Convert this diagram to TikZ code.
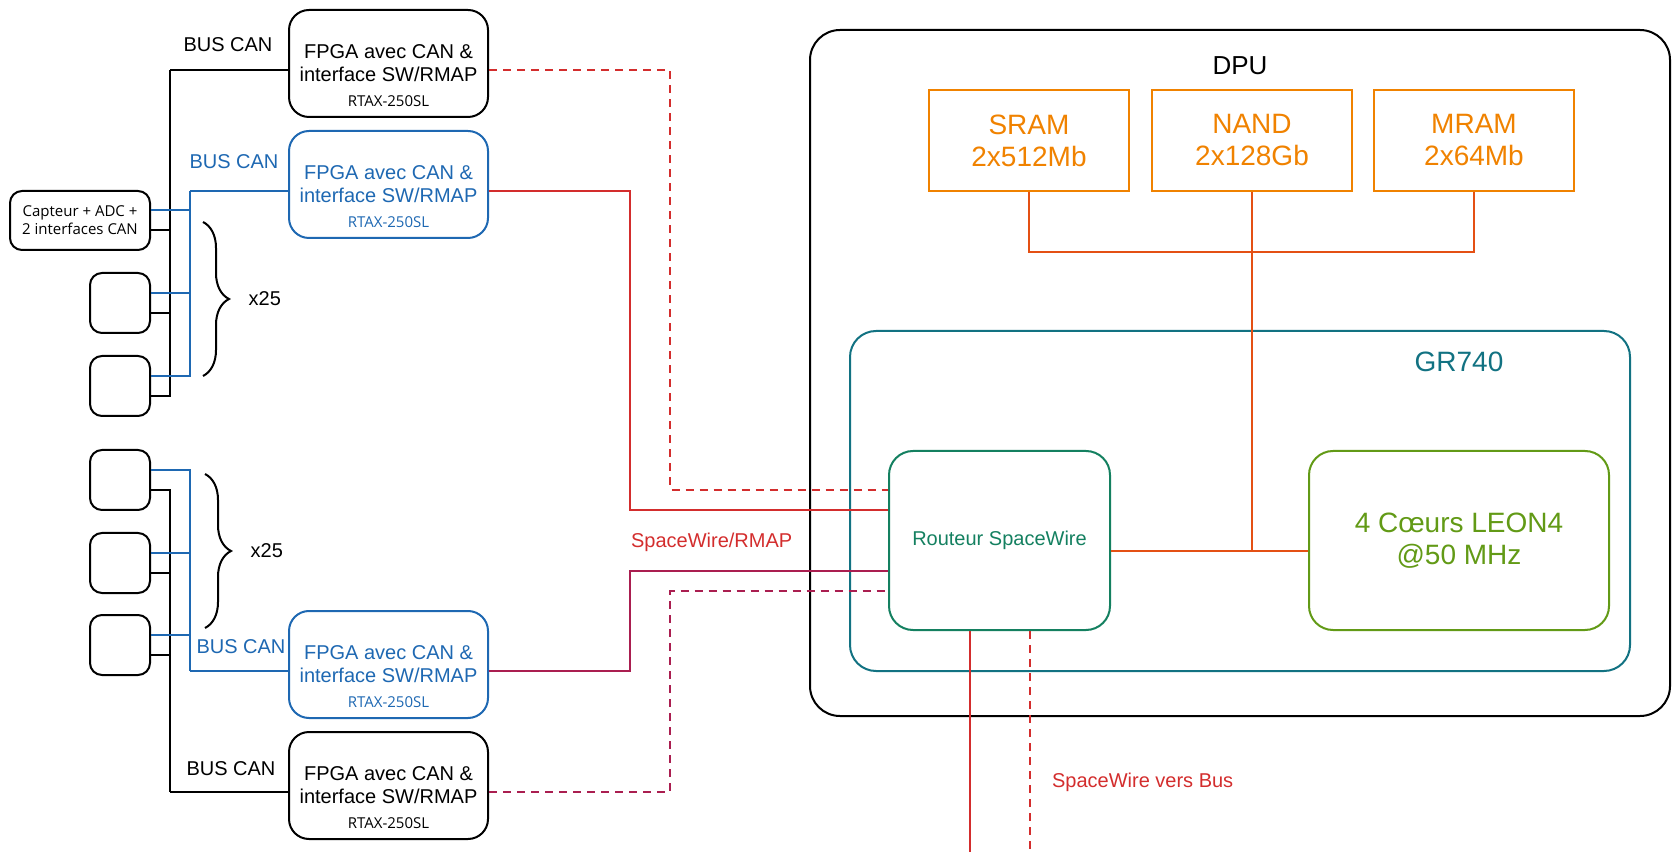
\documentclass[tikz,border=0pt]{standalone}
\usepackage{fontspec}
\setmainfont{Liberation Sans}
\newfontfamily\uisans{Open Sans}
\usepackage{tikz}
\usetikzlibrary{positioning,calc,decorations.pathreplacing}

\definecolor{canblue}{RGB}{30,104,178}
\definecolor{swred}{RGB}{211,45,45}
\definecolor{swwine}{RGB}{170,30,80}
\definecolor{memorange}{RGB}{240,130,0}
\definecolor{busorange}{RGB}{228,80,20}
\definecolor{grteal}{RGB}{18,114,130}
\definecolor{rtgreen}{RGB}{20,128,96}
\definecolor{leongreen}{RGB}{98,154,22}

\begin{document}
\begin{tikzpicture}[
  x=0.5pt,y=-0.5pt,
  font=\fontsize{10}{11.5}\selectfont,
  big/.style={font=\fontsize{14}{16}\selectfont},
  fpga/.style={draw,line width=1pt,rounded corners=10pt,minimum width=99.5pt,minimum height=53.5pt,align=center,inner sep=0pt},
  sens/.style={draw,line width=1pt,rounded corners=6pt,minimum width=30pt,minimum height=30pt,inner sep=0pt},
  mem/.style={draw=memorange,text=memorange,line width=1pt,minimum width=100pt,minimum height=50.5pt,align=center,big},
  chip/.style={rounded corners=12pt,line width=1pt,minimum height=89.5pt,align=center},
  bk/.style={line width=1pt},
  bl/.style={line width=1pt,draw=canblue},
  sw/.style={line width=1pt,draw=swred},
  swm/.style={line width=1pt,draw=swwine},
  swdash/.style={dash pattern=on 4pt off 3pt},
  ob/.style={line width=1pt,draw=busorange},
  brc/.style={decorate,decoration={brace,amplitude=13pt},line width=1pt},
]
  \useasboundingbox (0,0) rectangle (1680,860);

  % DPU with memories and GR740
  \node[draw,line width=1pt,rounded corners=15pt,minimum width=430pt,minimum height=343pt] (DPU) at (1240,373) {};
  \node[font=\fontsize{13}{15}\selectfont] (dpuT) at (1240,66) {DPU};
  \node[draw=grteal,line width=1pt,rounded corners=13pt,minimum width=390pt,minimum height=170pt] (GR) at (1240,501) {};
  \node[big,text=grteal] (grT) at (1459,362) {GR740};

  \node[mem] (SRAM) at (1029,140.5) {SRAM\\2x512Mb};
  \node[mem,right=10.5pt of SRAM] (NAND) {NAND\\2x128Gb};
  \node[mem,right=10pt of NAND] (MRAM) {MRAM\\2x64Mb};

  \node[chip,draw=rtgreen,text=rtgreen,minimum width=110.5pt] (RT) at (999.5,540.5) {Routeur SpaceWire};
  \node[chip,big,draw=leongreen,text=leongreen,minimum width=150pt] (LEON) at (1459,540.5) {4 Cœurs LEON4\\@50 MHz};

  \draw[ob] (SRAM.south) -- ++(0,-30pt) -| (MRAM.south);
  \draw[ob] (NAND.south) |- ([yshift=-5pt]RT.east);
  \draw[ob] ([yshift=-5pt]RT.east) -- ([yshift=-5pt]LEON.west);

  % FPGA boards
  \node[fpga] (F1) at (388.5,63.5) {\rule{0pt}{19pt}FPGA avec CAN \&\\interface SW/RMAP\\[1pt]{\uisans\fontsize{7.5}{9}\selectfont RTAX-250SL}};
  \node[fpga,draw=canblue,text=canblue,below=6pt of F1] (F2) {\rule{0pt}{19pt}FPGA avec CAN \&\\interface SW/RMAP\\[1pt]{\uisans\fontsize{7.5}{9}\selectfont RTAX-250SL}};
  \node[fpga,draw=canblue,text=canblue] (F3) at (388.5,664.5) {\rule{0pt}{19pt}FPGA avec CAN \&\\interface SW/RMAP\\[1pt]{\uisans\fontsize{7.5}{9}\selectfont RTAX-250SL}};
  \node[fpga,below=6pt of F3] (F4) {\rule{0pt}{19pt}FPGA avec CAN \&\\interface SW/RMAP\\[1pt]{\uisans\fontsize{7.5}{9}\selectfont RTAX-250SL}};

  % sensors
  \node[sens,minimum width=70pt,minimum height=29.5pt,align=center,font=\uisans\fontsize{7.5}{9}\selectfont] (Cap) at (80,220.5) {Capteur + ADC +\\2 interfaces CAN};
  \node[sens,below left=10.5pt and 0pt of Cap.south east] (S1) {};
  \node[sens,below=10.5pt of S1] (S2) {};
  \node[sens] (S3) at (120,480) {};
  \node[sens,below=10.5pt of S3] (S4) {};
  \node[sens,below=10pt of S4] (S5) {};

  % CAN buses
  \coordinate (kA) at ($(F1.west)+(-59pt,-3.5pt)$);
  \coordinate (bA) at ($(F2.west)+(-49pt,-3.5pt)$);
  \coordinate (kB) at ($(F4.west)+(-59pt,-3pt)$);
  \coordinate (bB) at ($(F3.west)+(-49pt,-3pt)$);
  \draw[bk] ([yshift=-3.5pt]F1.west) -- (kA);
  \foreach \s in {Cap,S1,S2} \draw[bk] (kA) |- ([yshift=-5pt]\s.east);
  \draw[bl] ([yshift=-3.5pt]F2.west) -- (bA);
  \foreach \s in {Cap,S1,S2} \draw[bl] (bA) |- ([yshift=5pt]\s.east);
  \draw[bk] ([yshift=-3pt]F4.west) -- (kB);
  \foreach \s in {S3,S4,S5} \draw[bk] (kB) |- ([yshift=-5pt]\s.east);
  \draw[bl] ([yshift=-3pt]F3.west) -- (bB);
  \foreach \s in {S3,S4,S5} \draw[bl] (bB) |- ([yshift=5pt]\s.east);

  \node (canK1) at (228,45) {BUS CAN};
  \node[text=canblue] (canB1) at (234,162) {BUS CAN};
  \node[text=canblue] (canB2) at (241,647) {BUS CAN};
  \node (canK2) at (231,769) {BUS CAN};

  \draw[brc] (203,222) -- (203,376) node[midway,right=19pt] (nA) {x25};
  \draw[brc] (205,474) -- (205,628) node[midway,right=19pt] (nB) {x25};

  % SpaceWire links
  \draw[sw,swdash] ([yshift=-3.5pt]F1.east) -| (670,490) -- (670,490 -| RT.west);
  \draw[sw] ([yshift=-3.5pt]F2.east) -| (630,510) -- (630,510 -| RT.west);
  \draw[swm] ([yshift=-3pt]F3.east) -| (630,571) -- (630,571 -| RT.west);
  \draw[swm,swdash] ([yshift=-3pt]F4.east) -| (670,591) -- (670,591 -| RT.west);
  \node[text=swred,anchor=west] (swT) at (624,542) {SpaceWire/RMAP};

  \coordinate (outA) at (970,852);
  \coordinate (outB) at (1030,852);
  \draw[sw] (outA |- RT.south) -- (outA);
  \draw[sw,swdash] (outB |- RT.south) -- (outB);
  \node[text=swred,anchor=west] (busT) at (1045,782) {SpaceWire vers Bus};
\end{tikzpicture}
\end{document}
